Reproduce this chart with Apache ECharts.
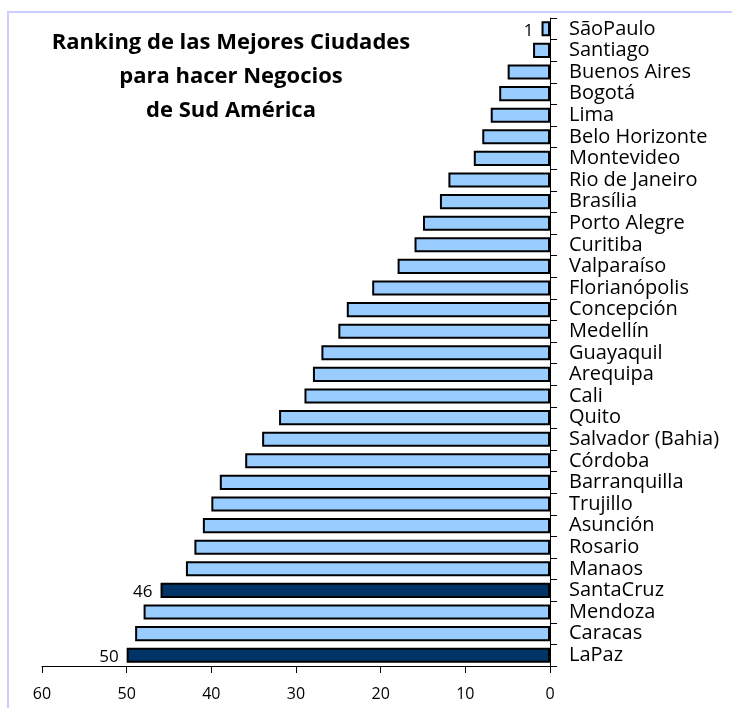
<!DOCTYPE html>
<html>
<head>
<meta charset="utf-8">
<script src="https://cdn.jsdelivr.net/npm/echarts@6/dist/echarts.min.js"></script>
<style>
  html, body { margin: 0; padding: 0; background: #fff; }
  #chart { width: 732px; height: 708px; }
</style>
</head>
<body>
<div id="chart"></div>
<script>
// ciudades de arriba hacia abajo
const cities = ['SãoPaulo', 'Santiago', 'Buenos Aires', 'Bogotá', 'Lima', 'Belo Horizonte',
  'Montevideo', 'Rio de Janeiro', 'Brasília', 'Porto Alegre', 'Curitiba', 'Valparaíso',
  'Florianópolis', 'Concepción', 'Medellín', 'Guayaquil', 'Arequipa', 'Cali', 'Quito',
  'Salvador (Bahia)', 'Córdoba', 'Barranquilla', 'Trujillo', 'Asunción', 'Rosario',
  'Manaos', 'SantaCruz', 'Mendoza', 'Caracas', 'LaPaz'];
const ranking = [1, 2, 5, 6, 7, 8, 9, 12, 13, 15, 16, 18, 21, 24, 25, 27, 28, 29, 32,
  34, 36, 39, 40, 41, 42, 43, 46, 48, 49, 50];
const highlighted = ['SantaCruz', 'LaPaz'];
const labelled = ['SãoPaulo', 'SantaCruz', 'LaPaz'];
const xTicks = [0, 10, 20, 30, 40, 50, 60];

const barData = cities.map((c, i) => ({
  value: ranking[i],
  itemStyle: { color: highlighted.includes(c) ? '#003366' : '#99ccff' },
  label: { show: labelled.includes(c) }
}));

const chart = echarts.init(document.getElementById('chart'));
chart.setOption({
  animation: false,
  backgroundColor: '#fff',
  textStyle: { fontFamily: 'Open Sans' },
  graphic: [
    {
      type: 'rect',
      shape: { x: 8, y: 12, width: 740, height: 720 },
      style: { fill: 'none', stroke: '#ccccff', lineWidth: 2 },
      z: -1
    },
    {
      type: 'text',
      x: 231, y: 26,
      style: {
        text: 'Ranking de las Mejores Ciudades\npara hacer Negocios\nde Sud América',
        font: 'bold 22px "Open Sans"',
        fill: '#000',
        align: 'center',
        lineHeight: 34
      }
    }
  ],
  grid: { left: 42, right: 182, top: 18, bottom: 42 },
  xAxis: {
    type: 'value',
    inverse: true,
    min: xTicks[0],
    max: xTicks[xTicks.length - 1],
    interval: 10,
    axisLine: { show: true, lineStyle: { color: '#000', width: 1 } },
    axisTick: { show: true, length: 7, lineStyle: { color: '#000' } },
    splitLine: { show: false },
    axisLabel: { color: '#000', fontSize: 16, margin: 20 }
  },
  yAxis: {
    type: 'category',
    data: cities,
    inverse: true,
    position: 'right',
    axisLine: { show: true, lineStyle: { color: '#000', width: 1 } },
    axisTick: { show: true, length: 7, lineStyle: { color: '#000' } },
    axisLabel: {
      interval: 0,
      color: '#000',
      fontSize: 20,
      margin: 19,
      padding: [5, 0, 0, 0]
    }
  },
  series: [{
    type: 'bar',
    data: barData,
    barCategoryGap: '30%',
    itemStyle: { borderColor: '#000', borderWidth: 2 },
    label: {
      position: 'left',
      distance: 8,
      offset: [0, 2],
      color: '#000',
      fontSize: 17
    }
  }]
});
</script>
</body>
</html>
